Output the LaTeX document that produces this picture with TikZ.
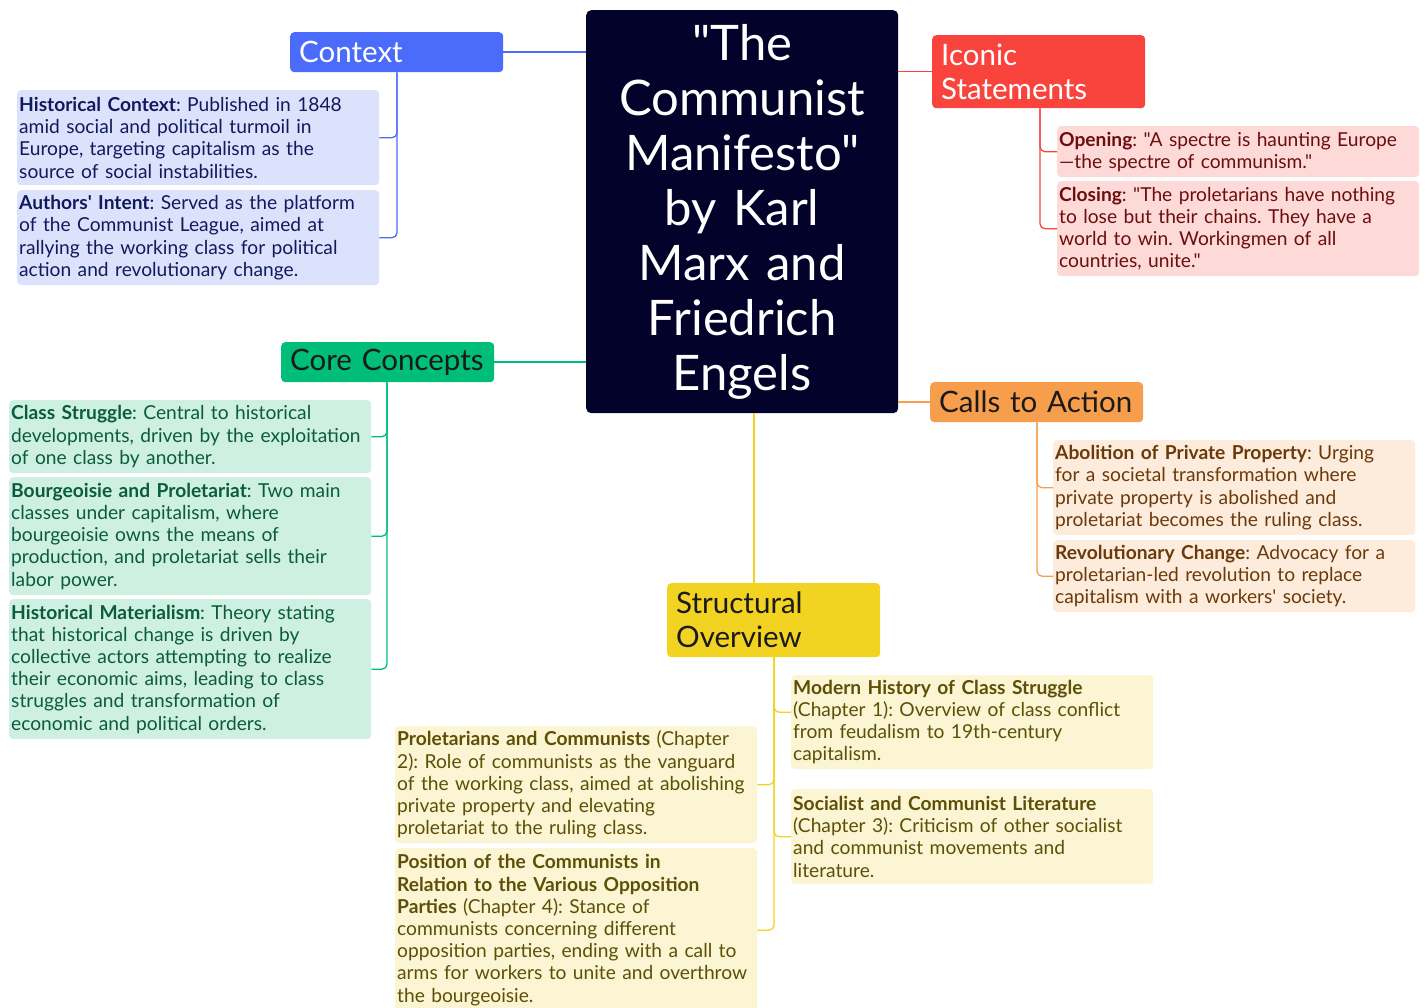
\documentclass[tikz,border=0pt]{standalone}
\usepackage{fontspec}
\setmainfont{Lato}[Ligatures=TeXOff]
\usetikzlibrary{calc}
\frenchspacing

\definecolor{rootbg}{RGB}{2,2,42}
\definecolor{ctxmain}{RGB}{75,108,250}
\definecolor{ctxleaf}{RGB}{221,226,252}
\definecolor{ctxtext}{RGB}{16,26,92}
\definecolor{coremain}{RGB}{0,190,122}
\definecolor{coreleaf}{RGB}{206,240,227}
\definecolor{coretext}{RGB}{10,92,58}
\definecolor{iconmain}{RGB}{249,68,62}
\definecolor{iconleaf}{RGB}{253,217,215}
\definecolor{icontext}{RGB}{107,14,14}
\definecolor{callmain}{RGB}{247,158,77}
\definecolor{callleaf}{RGB}{253,235,220}
\definecolor{calltext}{RGB}{106,58,10}
\definecolor{strmain}{RGB}{242,211,34}
\definecolor{strleaf}{RGB}{251,245,211}
\definecolor{strtext}{RGB}{92,80,6}
\definecolor{darktext}{RGB}{26,26,26}

\begin{document}
\begin{tikzpicture}[x=1pt,y=-1pt,
  head/.style={anchor=north west, rounded corners=4pt, inner xsep=9pt, inner ysep=0pt,
    text width=195pt, align=left, font=\fontsize{29.5}{34}\selectfont},
  leaf/.style={anchor=north west, rounded corners=4pt, inner xsep=2pt, inner ysep=0pt,
    text width=358pt, align=left, font=\fontsize{19.2}{22.2}\selectfont},
  link/.style={line width=1.6pt},
  elbow/.style={line width=1.3pt, rounded corners=5pt}]

\useasboundingbox (0,0) rectangle (1427,1008);

% central topic
\node[anchor=north west, fill=rootbg, rounded corners=5pt, inner sep=0pt,
  minimum width=312pt, minimum height=403pt, text width=312pt, align=center,
  text=white, font=\fontsize{49}{55}\selectfont] (root) at (586,10)
  {"The\\Communist\\Manifesto"\\by Karl\\Marx and\\Friedrich\\Engels};

% ---------------- Context
\node[head, fill=ctxmain, text=white, minimum height=40pt] (ctx) at (290,32) {Context};
\node[leaf, fill=ctxleaf, text=ctxtext, minimum height=95pt] (ctx1) at (17,90)
  {\textbf{Historical Context}: Published in 1848\\amid social and political turmoil in\\Europe, targeting capitalism as the\\source of social instabilities.};
\node[leaf, fill=ctxleaf, text=ctxtext, minimum height=95pt] (ctx2) at (17,190)
  {\textbf{Authors' Intent}: Served as the platform\\of the Communist League, aimed at\\rallying the working class for political\\action and revolutionary change.};
\draw[link, ctxmain] (ctx.east) -- (ctx.east -| root.west);
\coordinate (ctxT) at ($(ctx.south west)+(107,0)$);
\draw[elbow, ctxmain] (ctxT) |- (ctx1.east);
\draw[elbow, ctxmain] (ctxT) |- (ctx2.east);

% ---------------- Core Concepts
\node[head, fill=coremain, text=darktext, minimum height=40pt] (core) at (281,342) {Core Concepts};
\node[leaf, fill=coreleaf, text=coretext, minimum height=73pt] (core1) at (9,400)
  {\textbf{Class Struggle}: Central to historical\\developments, driven by the exploitation\\of one class by another.};
\node[leaf, fill=coreleaf, text=coretext, minimum height=118pt] (core2) at (9,477)
  {\textbf{Bourgeoisie and Proletariat}: Two main\\classes under capitalism, where\\bourgeoisie owns the means of\\production, and proletariat sells their\\labor power.};
\node[leaf, fill=coreleaf, text=coretext, minimum height=140pt] (core3) at (9,599)
  {\textbf{Historical Materialism}: Theory stating\\that historical change is driven by\\collective actors attempting to realize\\their economic aims, leading to class\\struggles and transformation of\\economic and political orders.};
\draw[link, coremain] (core.east) -- (core.east -| root.west);
\coordinate (coreT) at ($(core.south west)+(106,0)$);
\draw[elbow, coremain] (coreT) |- (core1.east);
\draw[elbow, coremain] (coreT) |- (core2.east);
\draw[elbow, coremain] (coreT) |- (core3.east);

% ---------------- Iconic Statements
\node[head, fill=iconmain, text=white, minimum height=73pt] (icon) at (932,35) {Iconic\\Statements};
\node[leaf, fill=iconleaf, text=icontext, minimum height=51pt] (icon1) at (1057,126)
  {\textbf{Opening}: "A spectre is haunting Europe\\—the spectre of communism."};
\node[leaf, fill=iconleaf, text=icontext, minimum height=95pt] (icon2) at (1057,181)
  {\textbf{Closing}: "The proletarians have nothing\\to lose but their chains. They have a\\world to win. Workingmen of all\\countries, unite."};
\draw[link, iconmain] (icon.west) -- (icon.west -| root.east);
\coordinate (iconT) at ($(icon.south west)+(108,0)$);
\draw[elbow, iconmain] (iconT) |- (icon1.west);
\draw[elbow, iconmain] (iconT) |- (icon2.west);

% ---------------- Calls to Action
\node[head, fill=callmain, text=darktext, minimum height=40pt] (call) at (930,382) {Calls to Action};
\node[leaf, fill=callleaf, text=calltext, minimum height=95pt] (call1) at (1053,440)
  {\textbf{Abolition of Private Property}: Urging\\for a societal transformation where\\private property is abolished and\\proletariat becomes the ruling class.};
\node[leaf, fill=callleaf, text=calltext, minimum height=72pt] (call2) at (1053,540)
  {\textbf{Revolutionary Change}: Advocacy for a\\proletarian-led revolution to replace\\capitalism with a workers' society.};
\draw[link, callmain] (call.west) -- (call.west -| root.east);
\coordinate (callT) at ($(call.south west)+(107,0)$);
\draw[elbow, callmain] (callT) |- (call1.west);
\draw[elbow, callmain] (callT) |- (call2.west);

% ---------------- Structural Overview
\node[head, fill=strmain, text=darktext, minimum height=74pt] (so) at (667,583) {Structural\\Overview};
\node[leaf, fill=strleaf, text=strtext, minimum height=94pt] (so1) at (791,675)
  {\textbf{Modern History of Class Struggle}\\(Chapter 1): Overview of class conflict\\from feudalism to 19th-century\\capitalism.};
\node[leaf, fill=strleaf, text=strtext, minimum height=95pt] (so3) at (791,789)
  {\textbf{Socialist and Communist Literature}\\(Chapter 3): Criticism of other socialist\\and communist movements and\\literature.};
\node[leaf, fill=strleaf, text=strtext, minimum height=117pt] (so2) at (395,726)
  {\textbf{Proletarians and Communists} (Chapter\\2): Role of communists as the vanguard\\of the working class, aimed at abolishing\\private property and elevating\\proletariat to the ruling class.};
\node[leaf, fill=strleaf, text=strtext, minimum height=164pt] (so4) at (395,848)
  {\textbf{Position of the Communists in\\Relation to the Various Opposition\\Parties} (Chapter 4): Stance of\\communists concerning different\\opposition parties, ending with a call to\\arms for workers to unite and overthrow\\the bourgeoisie.};
\coordinate (rootdrop) at (754,0);
\draw[link, strmain] (rootdrop |- root.south) -- (rootdrop |- so.north);
\coordinate (soT) at ($(so.south west)+(107,0)$);
\draw[elbow, strmain] (soT) |- ([yshift=10pt]so1.west);
\draw[elbow, strmain] (soT) |- (so3.west);
\draw[elbow, strmain] (soT) |- (so2.east);
\draw[elbow, strmain] (soT) |- (so4.east);

\end{tikzpicture}
\end{document}
